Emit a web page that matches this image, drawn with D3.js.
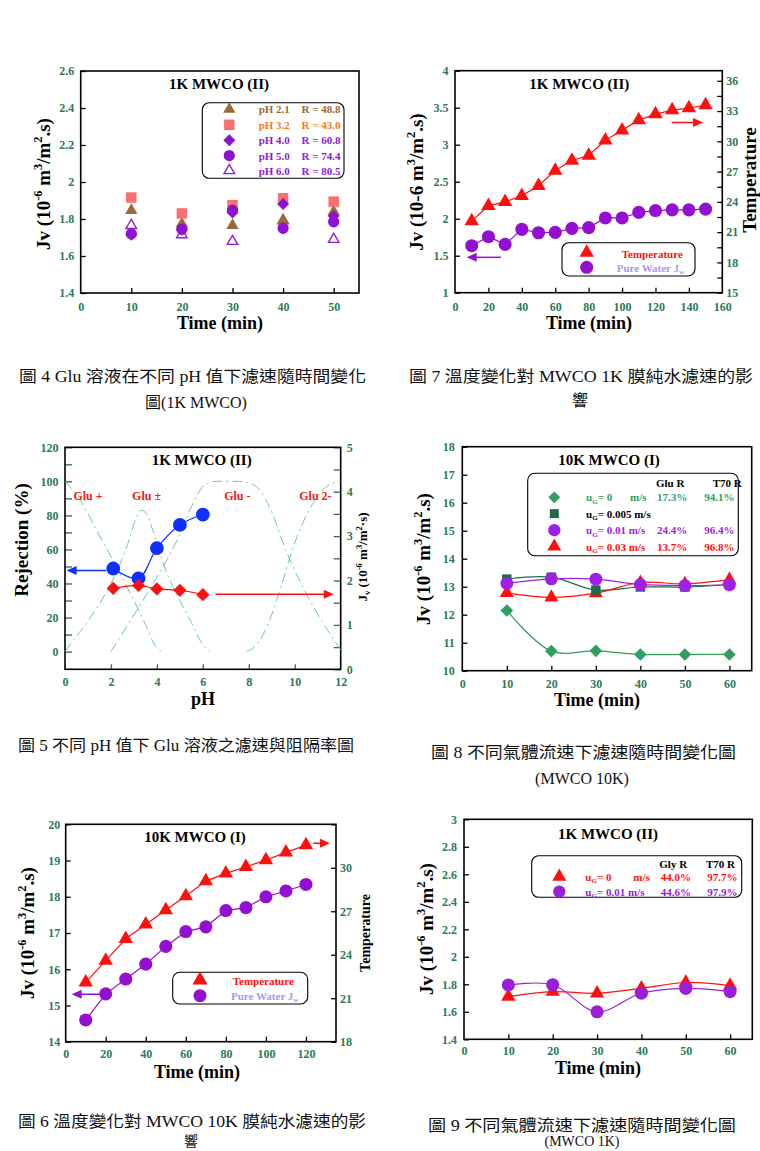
<!DOCTYPE html>
<html><head><meta charset="utf-8">
<script src="https://cdn.jsdelivr.net/npm/d3@7"></script>
<style>body{margin:0;background:#fff;}svg{display:block;}</style>
</head><body>
<script>
// ---------------- DATA ----------------
// Fig 4
const fig4Time=[10,20,30,40,50];
const fig4pH21=[1.846,1.774,1.765,1.794,1.840];
const fig4pH32=[1.916,1.830,1.875,1.912,1.894];
const fig4pH40=[1.715,1.742,1.835,1.881,1.816];
const fig4pH50=[1.720,1.745,1.848,1.750,1.785];
const fig4pH60=[1.765,1.715,1.679,1.790,1.690];
const fig4Names=['pH 2.1','pH 3.2','pH 4.0','pH 5.0','pH 6.0'];
const fig4R=['R = 48.8','R = 43.0','R = 60.8','R = 74.4','R = 80.5'];
const fig4XTicks=[0,10,20,30,40,50];
const fig4YTicks=[1.4,1.6,1.8,2,2.2,2.4,2.6];
// Fig 7
const fig7Time=[10,20,30,40,50,60,70,80,90,100,110,120,130,140,150];
const fig7Temp=[22.1,23.6,24.0,24.6,25.6,27.1,28.1,28.6,30.1,31.1,32.1,32.7,33.1,33.3,33.6];
const fig7Jw=[1.635,1.757,1.653,1.856,1.81,1.815,1.87,1.88,2.01,2.01,2.085,2.11,2.12,2.12,2.13];
const fig7XTicks=[0,20,40,60,80,100,120,140,160];
const fig7YTicks=[1,1.5,2,2.5,3,3.5,4];
const fig7TTicks=[15,18,21,24,27,30,33,36];
// Fig 5
const fig5pH=[2.1,3.2,4.0,5.0,6.0];
const fig5Rej=[48.8,43.0,60.8,74.4,80.5];
const fig5Jv=[1.824,1.89,1.81,1.78,1.68];
const gluPlusPH=[0,0.5,1,1.5,2,2.5,3,3.5,3.9,4.2];
const gluPlusF=[100,92,81,68,56,43,30,16,4,0];
const gluZwPH=[0,0.5,1,1.5,2,2.5,2.8,3.05,3.3,3.55,3.8,4.1,4.5,5,5.5,6,6.3];
const gluZwF=[0,9,18,28,40,55,66,77,83,81,72,59,44,30,17,4,0];
const gluMinusPH=[2,2.7,3.3,4.1,4.9,5.5,6.1,6.6,7.6,8.2,8.9,9.6,10.2,11,11.7,12];
const gluMinusF=[0,15,28,46,66,85,98,100,100,98,85,60,42,22,7,1];
const glu2PH=[7.9,8.4,8.8,9.4,9.9,10.7,11.4,12];
const glu2F=[0,5,15,38,60,85,97,100];
const fig5XTicks=[0,2,4,6,8,10,12];
const fig5YTicks=[0,20,40,60,80,100,120];
const fig5RTicks=[0,1,2,3,4,5];
const fig5Species=['Glu +','Glu \u00B1','Glu -','Glu 2-'];
const fig5SpeciesPH=[1.0,3.55,7.5,10.9];
// Fig 8
const fig8Time=[10,20,30,40,50,60];
const fig8u0=[12.15,10.70,10.71,10.58,10.58,10.58];
const fig8u005=[13.27,13.34,12.88,12.99,12.99,13.07];
const fig8u01=[13.12,13.28,13.27,13.08,13.04,13.07];
const fig8u03=[12.78,12.62,12.77,13.15,13.10,13.25];
const fig8GluR=['17.3%','','24.4%','13.7%'];
const fig8T70R=['94.1%','','96.4%','96.8%'];
const fig8XTicks=[0,10,20,30,40,50,60];
const fig8YTicks=[10,11,12,13,14,15,16,17,18];
// Fig 6
const fig6Time=[10,20,30,40,50,60,70,80,90,100,110,120];
const fig6Temp=[22.09,23.59,25.1,26.09,27.08,28.05,29.08,29.61,30.07,30.53,31.06,31.56];
const fig6Jw=[14.6,15.32,15.73,16.14,16.63,17.04,17.17,17.62,17.7,18.0,18.16,18.34];
const fig6XTicks=[0,20,40,60,80,100,120];
const fig6YTicks=[14,15,16,17,18,19,20];
const fig6TTicks=[18,21,24,27,30];
// Fig 9
const fig9Time=[10,20,30,40,50,60];
const fig9u0=[1.71,1.747,1.735,1.77,1.813,1.79];
const fig9u01=[1.795,1.797,1.60,1.735,1.77,1.747];
const fig9GlyR=['44.0%','44.6%'];
const fig9T70R=['97.7%','97.9%'];
const fig9XTicks=[0,10,20,30,40,50,60];
const fig9YTicks=[1.4,1.6,1.8,2,2.2,2.4,2.6,2.8,3];

// ---------------- HELPERS ----------------
const SERIF="'Liberation Serif','Times New Roman',serif";
const CAPF="'Liberation Serif','Noto Sans CJK TC',serif";
const TICKC='#2c7a58';
const RED='#ff1010', PUR='#9410d0', BLUE='#1030ff';
const TFS=12;
const svg=d3.select('body').append('svg').attr('width',760).attr('height',1151);

function rich(parent, parts, attrs){
  const t=parent.append('text');
  for(const k in attrs) t.attr(k,attrs[k]);
  const fs=attrs['font-size'];
  let shift=0;
  parts.forEach(p=>{
    const s=Array.isArray(p)?p[0]:p, mode=Array.isArray(p)?p[1]:null;
    const target=mode==='sup'?-fs*0.4:mode==='sub'?fs*0.22:0;
    const ts=t.append('tspan').text(s).attr('dy',target-shift);
    shift=target;
    if(mode) ts.attr('font-size',fs*0.65);
  });
  return t;
}
function txt(parent,x,y,s,o){
  const t=parent.append('text').attr('x',x).attr('y',y).text(s)
    .attr('font-family',SERIF).attr('font-weight','bold');
  for(const k in o) t.attr(k,o[k]);
  return t;
}
function styleAxis(a,fs,tc){
  a.select('.domain').remove();
  a.selectAll('line').attr('stroke',tc||'#000').attr('stroke-width',1.3);
  a.selectAll('text').attr('fill',TICKC).attr('font-family',SERIF)
   .attr('font-weight','bold').attr('font-size',fs||TFS);
}
function axes(g,P,sx,sy,o){
  const fmt=d=>String(d);
  const ab=g.append('g').attr('transform',`translate(0,${P.y1})`)
    .call(d3.axisBottom(sx).tickValues(o.xt).tickFormat(fmt).tickSize(-(o.xlen||5)).tickPadding(o.xpad||9));
  styleAxis(ab,TFS,o.tc);
  ab.selectAll('.tick').filter(d=>d===sx.domain()[0]||d===sx.domain()[1]).select('line').remove();
  const al=g.append('g').attr('transform',`translate(${P.x0},0)`)
    .call(d3.axisLeft(sy).tickValues(o.yt).tickFormat(fmt).tickSize(-(o.ylen||5)).tickPadding(o.ypad||6.5));
  styleAxis(al,TFS,o.tc);
  if(o.yminor){
    const am=g.append('g').attr('transform',`translate(${P.x0},0)`)
      .call(d3.axisLeft(sy).tickValues(o.yminor).tickFormat('').tickSize(-(o.ylen||5)));
    styleAxis(am,TFS,o.tc);
  }
  if(o.sr){
    const ar=g.append('g').attr('transform',`translate(${P.x1},0)`)
      .call(d3.axisRight(o.sr).tickValues(o.rt).tickFormat(fmt).tickSize(-(o.rlen||5)).tickPadding(o.rpad||4));
    styleAxis(ar,TFS,o.tc);
    if(o.rminor){
      const rm=g.append('g').attr('transform',`translate(${P.x1},0)`)
        .call(d3.axisRight(o.sr).tickValues(o.rminor).tickFormat('').tickSize(-(o.rlen||5)));
      styleAxis(rm,TFS,o.tc);
    }
  }
  g.append('rect').attr('x',P.x0).attr('y',P.y0).attr('width',P.x1-P.x0).attr('height',P.y1-P.y0)
    .attr('fill','none').attr('stroke','#000').attr('stroke-width',1.6);
}
const SYM={triangle:d3.symbolTriangle,square:d3.symbolSquare,circle:d3.symbolCircle,diamond:d3.symbolSquare,tri:d3.symbolTriangle};
function marks(g,xs,ys,sx,sy,type,size,fill,stroke,sw){
  g.selectAll(null).data(xs.map((x,i)=>[x,ys[i]])).join('path')
    .attr('d',d3.symbol(SYM[type],size))
    .attr('transform',d=>`translate(${sx(d[0])},${sy(d[1])})${type==='diamond'?' rotate(45)':''}`)
    .attr('fill',fill).attr('stroke',stroke||'none').attr('stroke-width',sw||0);
}
function line(g,xs,ys,sx,sy,color,curve,extra){
  const p=g.append('path').datum(xs.map((x,i)=>[x,ys[i]]))
    .attr('d',d3.line().x(d=>sx(d[0])).y(d=>sy(d[1])).curve(curve||d3.curveLinear))
    .attr('fill','none').attr('stroke',color).attr('stroke-width',1.2);
  if(extra) for(const k in extra) p.attr(k,extra[k]);
  return p;
}
function arrow(g,xa,xb,y,color){
  const dir=xb>xa?1:-1;
  g.append('line').attr('x1',xa).attr('x2',xb-dir*8).attr('y1',y).attr('y2',y)
    .attr('stroke',color).attr('stroke-width',1.5);
  g.append('path').attr('d',`M${xb},${y}L${xb-dir*10},${y-4.5}L${xb-dir*10},${y+4.5}Z`).attr('fill',color);
}
function legendBox(g,x0,y0,x1,y1){
  g.append('rect').attr('x',x0).attr('y',y0).attr('width',x1-x0).attr('height',y1-y0)
   .attr('rx',7).attr('fill','#fff').attr('stroke','#000').attr('stroke-width',1.1);
}
const JV=[ 'Jv (10',['-6','sup'],' m',['3','sup'],'/m',['2','sup'],'.s)'];
function ytitle(g,x,y,parts,fs){
  rich(g,parts,{transform:`translate(${x},${y}) rotate(-90)`,'text-anchor':'middle','font-size':fs||19,'font-weight':'bold','font-family':SERIF});
}
const id=d=>d;
const LFS=11;

// ---------------- FIG 4 ----------------
{
  const P={x0:80.7,x1:359,y0:71,y1:293};
  const g=svg.append('g');
  const sx=d3.scaleLinear().domain([0,55]).range([P.x0,P.x1]);
  const sy=d3.scaleLinear().domain([1.4,2.6]).range([P.y1,P.y0]);
  axes(g,P,sx,sy,{xt:fig4XTicks,yt:fig4YTicks});
  txt(g,219,88.5,'1K MWCO (II)',{'font-size':15,'text-anchor':'middle'});
  txt(g,220,329,'Time (min)',{'font-size':18,'text-anchor':'middle'});
  ytitle(g,50,184,JV);
  const cols=['#9b6a38','#f87070','#8e12cf','#8e12cf','#9020d0'];
  const tcols=['#9b6a38','#ef7a22','#9020d0','#9020d0','#9020d0'];
  marks(g,fig4Time,fig4pH60,sx,sy,'tri',48,'#fff',cols[4],1.4);
  marks(g,fig4Time,fig4pH21,sx,sy,'triangle',66,cols[0]);
  marks(g,fig4Time,fig4pH32,sx,sy,'square',110,cols[1]);
  marks(g,fig4Time,fig4pH40,sx,sy,'diamond',72,cols[2]);
  marks(g,fig4Time,fig4pH50,sx,sy,'circle',100,cols[3]);
  legendBox(g,202.3,102.7,344,178.3);
  const rows=[109.3,124.8,140.2,155.6,170.6];
  const types=['triangle','square','diamond','circle','tri'];
  const sizes=[66,110,72,100,48];
  rows.forEach((y,i)=>{
    const lx=d3.scaleLinear().domain([0,1]).range([229.3,229.3]);
    if(types[i]==='tri') marks(g,[0],[y],lx,id,'tri',sizes[i],'#fff',cols[i],1.4);
    else marks(g,[0],[y],lx,id,types[i],sizes[i],cols[i]);
    txt(g,258.7,y+4,fig4Names[i],{'font-size':LFS,fill:tcols[i]});
    txt(g,301.5,y+4,fig4R[i],{'font-size':LFS,fill:tcols[i]});
  });
}
// ---------------- FIG 7 ----------------
{
  const P={x0:455,x1:722.3,y0:70.7,y1:292.7};
  const g=svg.append('g');
  const sx=d3.scaleLinear().domain([0,160]).range([P.x0,P.x1]);
  const sy=d3.scaleLinear().domain([1,4]).range([P.y1,P.y0]);
  const sr=d3.scaleLinear().domain([15,37]).range([P.y1,P.y0]);
  axes(g,P,sx,sy,{xt:fig7XTicks,yt:fig7YTicks,sr:sr,rt:fig7TTicks,rminor:[16.5,19.5,22.5,25.5,28.5,31.5,34.5],xpad:9.5});
  txt(g,579.3,89,'1K MWCO (II)',{'font-size':15,'text-anchor':'middle'});
  txt(g,589,329,'Time (min)',{'font-size':18,'text-anchor':'middle'});
  ytitle(g,423,182,[ 'Jv (10-6 m',['3','sup'],'/m',['2','sup'],'.s)']);
  ytitle(g,756,180,['Temperature']);
  line(g,fig7Time,fig7Temp,sx,sr,RED);
  line(g,fig7Time,fig7Jw,sx,sy,PUR);
  marks(g,fig7Time,fig7Temp,sx,sr,'triangle',90,RED);
  marks(g,fig7Time,fig7Jw,sx,sy,'circle',135,PUR);
  arrow(g,sx(129.7),sx(148.5),sy(3.30),RED);
  arrow(g,sx(27.5),sx(7),sy(1.478),PUR);
  legendBox(g,562,242.7,695,276);
  const lx=d3.scaleLinear().domain([0,1]).range([586.7,586.7]);
  marks(g,[0],[252.5],lx,id,'triangle',90,RED);
  marks(g,[0],[267.3],lx,id,'circle',135,PUR);
  txt(g,621.7,257.5,'Temperature',{'font-size':LFS,fill:RED});
  rich(g,['Pure Water J',['w','sub']],{x:616.7,y:271.5,'font-size':LFS,'font-weight':'bold','font-family':SERIF,fill:'#a898f2'});
}
// ---------------- FIG 5 ----------------
{
  const P={x0:65,x1:340.7,y0:447.3,y1:669.3};
  const g=svg.append('g');
  const sx=d3.scaleLinear().domain([0,12]).range([P.x0,P.x1]);
  const sy=d3.scaleLinear().domain([-10.4,120]).range([P.y1,P.y0]);
  const sr=d3.scaleLinear().domain([0,5]).range([P.y1,P.y0]);
  const GT='#2a6e4e';
  axes(g,P,sx,sy,{xt:fig5XTicks,yt:fig5YTicks,yminor:[10,30,50,70,90,110],ylen:7,tc:GT,
     sr:sr,rt:fig5RTicks,rminor:[0.5,1.5,2.5,3.5,4.5],rlen:7,rpad:6,xpad:8});
  const dash={'stroke-dasharray':'10,4,2,4','stroke-width':1};
  const SC='#6fcaa0';
  line(g,gluPlusPH,gluPlusF,sx,sy,SC,d3.curveMonotoneX,dash);
  line(g,gluZwPH,gluZwF,sx,sy,SC,d3.curveMonotoneX,dash);
  line(g,gluMinusPH,gluMinusF,sx,sy,SC,d3.curveMonotoneX,dash);
  line(g,glu2PH,glu2F,sx,sy,SC,d3.curveMonotoneX,dash);
  fig5Species.forEach((s,i)=>txt(g,sx(fig5SpeciesPH[i]),500,s,{'font-size':12,fill:'#ee2020','text-anchor':'middle'}));
  txt(g,201.7,465,'1K MWCO (II)',{'font-size':15,'text-anchor':'middle'});
  txt(g,203,705,'pH',{'font-size':18,'text-anchor':'middle'});
  ytitle(g,28,540,['Rejection (%)']);
  rich(g,['J',['v','sub'],' (10',['-6','sup'],' m',['3','sup'],'/m',['2','sup'],'\u00B7s)'],
    {transform:'translate(367,557) rotate(-90)','text-anchor':'middle','font-size':13,'font-weight':'bold','font-family':SERIF});
  line(g,fig5pH,fig5Rej,sx,sy,BLUE,d3.curveCatmullRom);
  line(g,fig5pH,fig5Jv,sx,sr,RED,d3.curveCatmullRom);
  marks(g,fig5pH,fig5Rej,sx,sy,'circle',150,BLUE);
  marks(g,fig5pH,fig5Jv,sx,sr,'diamond',88,RED);
  arrow(g,sx(1.8),sx(0.07),sy(47.6),BLUE);
  arrow(g,sx(6.55),sx(11.7),sr(1.69),RED);
}
// ---------------- FIG 8 ----------------
{
  const P={x0:462.3,x1:751.7,y0:446.7,y1:670.7};
  const g=svg.append('g');
  const sx=d3.scaleLinear().domain([0,65]).range([P.x0,P.x1]);
  const sy=d3.scaleLinear().domain([10,18]).range([P.y1,P.y0]);
  axes(g,P,sx,sy,{xt:fig8XTicks,yt:fig8YTicks,xpad:9,ypad:7.5});
  txt(g,609,465,'10K MWCO (I)',{'font-size':15,'text-anchor':'middle'});
  txt(g,597,706,'Time (min)',{'font-size':18,'text-anchor':'middle'});
  ytitle(g,430,559,JV);
  const G1='#2f9e5f',G2='#1e6b4a',P3='#a020e8';
  line(g,fig8Time,fig8u0,sx,sy,G1,d3.curveCatmullRom);
  line(g,fig8Time,fig8u005,sx,sy,G2,d3.curveCatmullRom);
  line(g,fig8Time,fig8u01,sx,sy,P3,d3.curveCatmullRom);
  line(g,fig8Time,fig8u03,sx,sy,RED,d3.curveCatmullRom);
  marks(g,fig8Time,fig8u03,sx,sy,'triangle',85,RED);
  marks(g,fig8Time,fig8u005,sx,sy,'square',90,G2);
  marks(g,fig8Time,fig8u01,sx,sy,'circle',130,P3);
  marks(g,fig8Time,fig8u0,sx,sy,'diamond',80,G1);
  legendBox(g,527.7,473.3,738.3,555.7);
  txt(g,656,487,'Glu R',{'font-size':LFS,fill:'#000'});
  txt(g,712.7,487,'T70 R',{'font-size':LFS,fill:'#000'});
  const rows=[497.3,513.6,530.2,546.5];
  const types=['diamond','square','circle','triangle'];
  const sizes=[70,80,120,85];
  const cs=[G1,G2,P3,RED], tc=[G1,'#000',P3,RED];
  const lab=[['u',['G','sub'],'= 0'],['u',['G','sub'],'= 0.005 m/s'],['u',['G','sub'],'= 0.01 m/s'],['u',['G','sub'],'= 0.03 m/s']];
  const lx=d3.scaleLinear().domain([0,1]).range([554.3,554.3]);
  rows.forEach((y,i)=>{
    marks(g,[0],[y],lx,id,types[i],sizes[i],cs[i]);
    rich(g,lab[i],{x:586,y:y+4,'font-size':LFS,'font-weight':'bold','font-family':SERIF,fill:tc[i]});
    if(i===0) txt(g,630,y+4,'m/s',{'font-size':LFS,fill:tc[i]});
    if(fig8GluR[i]) txt(g,657,y+4,fig8GluR[i],{'font-size':LFS,fill:tc[i]});
    if(fig8T70R[i]) txt(g,704.3,y+4,fig8T70R[i],{'font-size':LFS,fill:tc[i]});
  });
}
// ---------------- FIG 6 ----------------
{
  const P={x0:65.7,x1:336,y0:824.3,y1:1041.7};
  const g=svg.append('g');
  const sx=d3.scaleLinear().domain([0,135]).range([P.x0,P.x1]);
  const sy=d3.scaleLinear().domain([14,20]).range([P.y1,P.y0]);
  const sr=d3.scaleLinear().domain([18,33]).range([P.y1,P.y0]);
  axes(g,P,sx,sy,{xt:fig6XTicks,yt:fig6YTicks,sr:sr,rt:fig6TTicks,rminor:[33],xpad:8,ypad:5.5});
  txt(g,195,842,'10K MWCO (I)',{'font-size':15,'text-anchor':'middle'});
  txt(g,197,1078,'Time (min)',{'font-size':18,'text-anchor':'middle'});
  ytitle(g,34,933,JV);
  ytitle(g,370,933,['Temperature'],14);
  line(g,fig6Time,fig6Temp,sx,sr,RED);
  line(g,fig6Time,fig6Jw,sx,sy,PUR);
  marks(g,fig6Time,fig6Temp,sx,sr,'triangle',90,RED);
  marks(g,fig6Time,fig6Jw,sx,sy,'circle',135,PUR);
  arrow(g,sx(123.7),sx(132),sr(31.69),RED);
  arrow(g,sx(17.1),sx(3),sy(15.31),PUR);
  legendBox(g,172.7,972.3,307.7,1004);
  const lx=d3.scaleLinear().domain([0,1]).range([200,200]);
  marks(g,[0],[980],lx,id,'triangle',100,RED);
  marks(g,[0],[995.7],lx,id,'circle',135,PUR);
  txt(g,232.7,984.5,'Temperature',{'font-size':LFS,fill:RED});
  rich(g,['Pure Water J',['w','sub']],{x:231,y:999.5,'font-size':LFS,'font-weight':'bold','font-family':SERIF,fill:'#a898f2'});
}
// ---------------- FIG 9 ----------------
{
  const P={x0:464,x1:752.3,y0:819.3,y1:1039.3};
  const g=svg.append('g');
  const sx=d3.scaleLinear().domain([0,65]).range([P.x0,P.x1]);
  const sy=d3.scaleLinear().domain([1.4,3]).range([P.y1,P.y0]);
  axes(g,P,sx,sy,{xt:fig9XTicks,yt:fig9YTicks,xpad:7.5,ypad:7});
  txt(g,608,838.5,'1K MWCO (II)',{'font-size':15,'text-anchor':'middle'});
  txt(g,598,1074,'Time (min)',{'font-size':18,'text-anchor':'middle'});
  ytitle(g,433,929,JV);
  const P9='#9a20d8';
  line(g,fig9Time,fig9u0,sx,sy,RED,d3.curveCatmullRom);
  line(g,fig9Time,fig9u01,sx,sy,P9,d3.curveCatmullRom);
  marks(g,fig9Time,fig9u0,sx,sy,'triangle',90,RED);
  marks(g,fig9Time,fig9u01,sx,sy,'circle',135,P9);
  legendBox(g,531.7,855.7,741.7,897.3);
  txt(g,659.3,867.5,'Gly R',{'font-size':LFS,fill:'#000'});
  txt(g,706,867.5,'T70 R',{'font-size':LFS,fill:'#000'});
  const lx=d3.scaleLinear().domain([0,1]).range([559.3,559.3]);
  marks(g,[0],[876.7],lx,id,'triangle',85,RED);
  marks(g,[0],[891.7],lx,id,'circle',120,P9);
  rich(g,['u',['G','sub'],'= 0'],{x:585.3,y:880.8,'font-size':LFS,'font-weight':'bold','font-family':SERIF,fill:RED});
  txt(g,633.3,880.8,'m/s',{'font-size':LFS,fill:RED});
  rich(g,['u',['G','sub'],'= 0.01 m/s'],{x:585.3,y:895.8,'font-size':LFS,'font-weight':'bold','font-family':SERIF,fill:P9});
  [880.8,895.8].forEach((y,i)=>{
    const c=i?P9:RED;
    txt(g,660.7,y,fig9GlyR[i],{'font-size':LFS,fill:c});
    txt(g,707.3,y,fig9T70R[i],{'font-size':LFS,fill:c});
  });
}
// ---------------- CAPTIONS ----------------
function cap(x,y,s,len,anchor,fs){
  const t=svg.append('text').attr('x',x).attr('y',y).text(s)
    .attr('font-family',CAPF).attr('font-size',fs||16).attr('fill','#111');
  if(len){t.attr('textLength',len).attr('lengthAdjust','spacingAndGlyphs');}
  if(anchor) t.attr('text-anchor',anchor);
}
cap(19,382,'圖 4 Glu 溶液在不同 pH 值下濾速隨時間變化',347);
cap(196,408,'圖(1K MWCO)',null,'middle');
cap(409,382,'圖 7 溫度變化對 MWCO 1K 膜純水濾速的影',344);
cap(580,406,'響',null,'middle');
cap(18,751,'圖 5 不同 pH 值下 Glu 溶液之濾速與阻隔率圖',336);
cap(431,758,'圖 8 不同氣體流速下濾速隨時間變化圖',305);
cap(582,784,'(MWCO 10K)',null,'middle');
cap(18,1127,'圖 6 溫度變化對 MWCO 10K 膜純水濾速的影',348);
cap(191,1146,'響',null,'middle',14);
cap(428,1131,'圖 9 不同氣體流速下濾速隨時間變化圖',308);
cap(582,1146,'(MWCO 1K)',null,'middle',14);
</script>
</body></html>
